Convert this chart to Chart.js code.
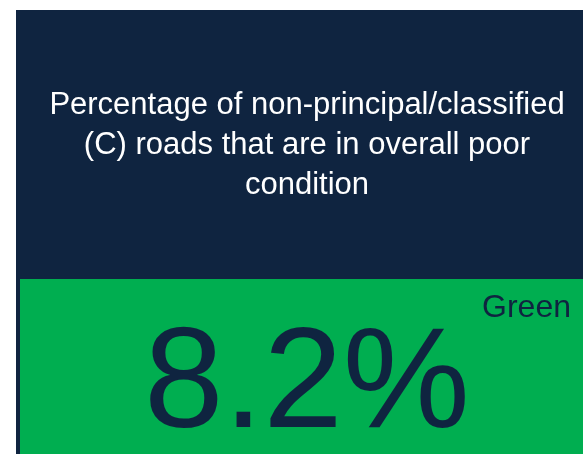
<!DOCTYPE html>
<html>
<head>
<meta charset="utf-8">
<script src="https://cdn.jsdelivr.net/npm/chart.js@4.4.1/dist/chart.umd.min.js"></script>
<style>
  html, body { margin: 0; padding: 0; background: #ffffff; }
  #wrap { width: 583px; height: 454px; position: relative; }
</style>
</head>
<body>
<div id="wrap"><canvas id="c" width="583" height="454"></canvas></div>
<script>
const titleLines = ['Percentage of non-principal/classified', '(C) roads that are in overall poor', 'condition'];
const categories = ['Roads in poor condition'];
const kpiValue = [8.2];
const kpiUnit = ['%'];
const kpiStatus = ['Green'];

const NAVY = '#0f2440';
const GREEN = '#00ae50';

const tilePlugin = {
  id: 'tile',
  beforeDraw(chart) {
    const ctx = chart.ctx;
    ctx.save();
    ctx.fillStyle = '#ffffff';
    ctx.fillRect(0, 0, chart.width, chart.height);
    ctx.fillStyle = NAVY;
    ctx.fillRect(16, 10, chart.width - 16, chart.height - 10);
    ctx.fillStyle = GREEN;
    ctx.fillRect(20, 279, chart.width - 20, chart.height - 279);
    ctx.restore();
  },
  afterDraw(chart) {
    const ctx = chart.ctx;
    const v = chart.data.datasets[0].data[0];
    ctx.save();
    ctx.fillStyle = NAVY;
    ctx.textAlign = 'center';
    ctx.textBaseline = 'alphabetic';
    ctx.font = '143px "Liberation Sans", Arial, sans-serif';
    ctx.fillText(v.toFixed(1) + kpiUnit[0], 307, 427);
    ctx.textAlign = 'right';
    ctx.font = '32px "Liberation Sans", Arial, sans-serif';
    ctx.fillText(kpiStatus[0], 571, 317);
    ctx.restore();
  }
};

new Chart(document.getElementById('c'), {
  type: 'bar',
  data: {
    labels: categories,
    datasets: [{ data: kpiValue, backgroundColor: 'rgba(0,0,0,0)', borderWidth: 0 }]
  },
  options: {
    responsive: false,
    animation: false,
    devicePixelRatio: 1,
    layout: { padding: { left: 31, right: 0, top: 0, bottom: 0 } },
    scales: { x: { display: false }, y: { display: false, min: 0, max: 100 } },
    plugins: {
      legend: { display: false },
      tooltip: { enabled: false },
      title: {
        display: true,
        text: titleLines,
        color: '#ffffff',
        font: { family: '"Liberation Sans", Arial, sans-serif', size: 31, weight: 'normal', lineHeight: 40 / 31 },
        padding: { top: 85, bottom: 0 }
      }
    }
  },
  plugins: [tilePlugin]
});
</script>
</body>
</html>
